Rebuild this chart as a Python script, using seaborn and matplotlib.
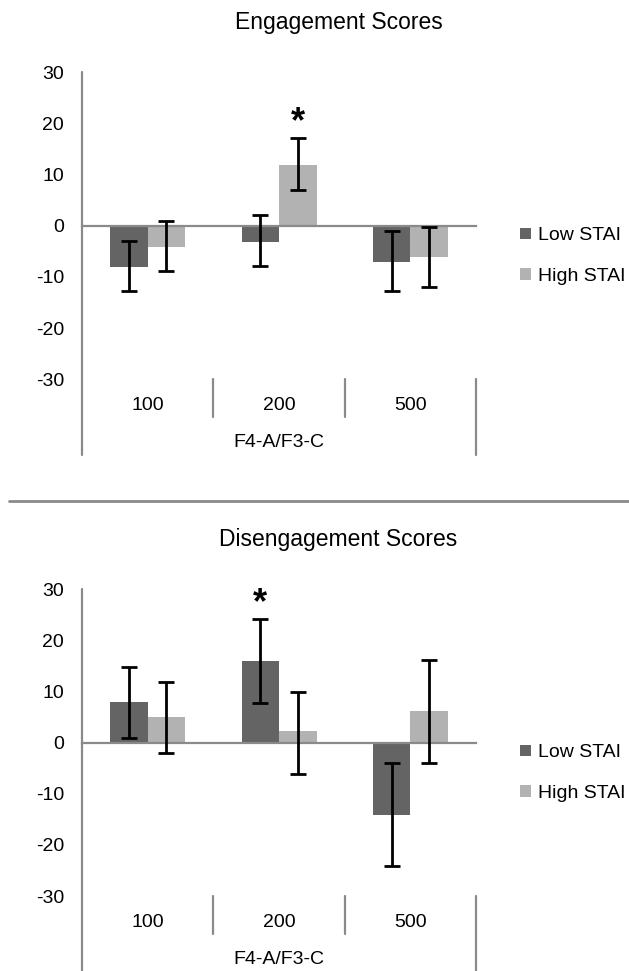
import matplotlib.pyplot as plt
import pandas as pd
import seaborn as sns
from matplotlib.lines import Line2D
from matplotlib.transforms import blended_transform_factory

# ==========================================
# Data
# ==========================================

delays = ["100", "200", "500"]
groups = ["Low STAI", "High STAI"]
axis_name = "F4-A/F3-C"

eng_low = [-8.1, -3.2, -7.1]
eng_high = [-4.2, 11.9, -6.2]
eng_low_lo = [-12.8, -7.9, -12.8]
eng_low_hi = [-3.0, 2.0, -1.0]
eng_high_lo = [-8.8, 6.9, -11.9]
eng_high_hi = [0.9, 17.1, -0.3]

dis_low = [8.0, 15.9, -14.1]
dis_high = [5.0, 2.2, 6.1]
dis_low_lo = [0.9, 7.8, -24.1]
dis_low_hi = [14.8, 24.2, -4.0]
dis_high_lo = [-2.0, -6.1, -4.0]
dis_high_hi = [11.8, 9.8, 16.1]

y_ticks = [-30, -20, -10, 0, 10, 20, 30]

LOW_COLOR = "#646464"
HIGH_COLOR = "#b2b2b2"
AXIS_GRAY = "#8a8a8a"


def draw_panel(ax, low, high, low_lo, low_hi, high_lo, high_hi, star_group, star_idx):

    df = pd.DataFrame({
        "delay": delays * 2,
        "group": [groups[0]] * len(delays) + [groups[1]] * len(delays),
        "score": low + high,
    })

    sns.barplot(
        data=df,
        x="delay",
        y="score",
        hue="group",
        order=delays,
        hue_order=groups,
        palette=[LOW_COLOR, HIGH_COLOR],
        width=0.571,
        gap=0,
        errorbar=None,
        saturation=1,
        linewidth=0,
        ax=ax,
    )

    # error bars on top of each bar
    tops = {}
    for container, vals, lo, hi, g in zip(
        ax.containers, [low, high], [low_lo, high_lo], [low_hi, high_hi], groups
    ):
        xs = [p.get_x() + p.get_width() / 2 for p in container.patches]
        yerr = [
            [v - l for v, l in zip(vals, lo)],
            [h - v for v, h in zip(vals, hi)],
        ]
        ax.errorbar(
            xs, vals, yerr=yerr, fmt="none", ecolor="black",
            elinewidth=2, capsize=6, capthick=2, zorder=4,
        )
        tops[g] = list(zip(xs, hi))

    sx, sy = tops[star_group][star_idx]
    ax.annotate(
        "*", xy=(sx, sy), xytext=(0, 4), textcoords="offset points",
        ha="center", va="baseline", fontsize=26, fontweight="bold",
        color="black",
    )

    ax.set_xlim(-0.5, 2.5)
    ax.set_ylim(-30, 30)
    ax.set_yticks(y_ticks)
    ax.set_xticks([0.5, 1.5, 2.5])
    ax.set_xticklabels([])
    ax.set_xlabel("")
    ax.set_ylabel("")

    for side in ["top", "right", "left"]:
        ax.spines[side].set_visible(False)
    ax.spines["bottom"].set_position(("data", 0))
    ax.spines["bottom"].set_color(AXIS_GRAY)
    ax.spines["bottom"].set_linewidth(1.6)
    ax.spines["bottom"].set_zorder(3)

    ax.tick_params(axis="y", direction="out", length=6, width=1.3,
                   color=AXIS_GRAY, pad=7, labelsize=14, labelcolor="black")
    ax.tick_params(axis="x", direction="out", length=4, width=1.3,
                   color=AXIS_GRAY)

    # category table below the plot
    trans = blended_transform_factory(ax.transData, ax.transAxes)
    line_kw = dict(transform=trans, clip_on=False, color=AXIS_GRAY, lw=1.6)
    ax.add_line(Line2D([-0.5, -0.5], [-0.246, 1], **line_kw))
    ax.add_line(Line2D([2.5, 2.5], [-0.246, 0], **line_kw))
    for xb in [0.5, 1.5]:
        ax.add_line(Line2D([xb, xb], [-0.123, 0], **line_kw))

    for i, d in enumerate(delays):
        ax.text(i, -0.085, d, transform=trans, ha="center", va="center",
                fontsize=14, color="black")
    ax.text(1, -0.207, axis_name, transform=trans, ha="center",
            va="center", fontsize=14, color="black")

    handles, labels = ax.get_legend_handles_labels()
    leg = ax.legend(
        handles, labels, loc="center left", bbox_to_anchor=(1.112, 0.401),
        frameon=False, fontsize=14, handlelength=0.55, handleheight=0.55,
        handletextpad=0.35, labelspacing=1.2, borderpad=0, borderaxespad=0,
    )
    for t in leg.get_texts():
        t.set_color("black")


def main():

    sns.set_style("white")
    plt.rcParams["font.family"] = ["Liberation Sans", "DejaVu Sans"]
    plt.rcParams["axes.unicode_minus"] = False
    plt.rcParams["text.color"] = "black"

    fig = plt.figure(figsize=(6.29, 9.71), dpi=100)

    ax_top = fig.add_axes([0.1304, 0.6094, 0.6264, 0.3164])
    ax_bot = fig.add_axes([0.1304, 0.0772, 0.6264, 0.3162])

    draw_panel(ax_top, eng_low, eng_high, eng_low_lo, eng_low_hi,
               eng_high_lo, eng_high_hi, "High STAI", 1)
    draw_panel(ax_bot, dis_low, dis_high, dis_low_lo, dis_low_hi,
               dis_high_lo, dis_high_hi, "Low STAI", 1)

    fig.text(0.538, 0.9773, "Engagement Scores", ha="center", va="center",
             fontsize=16.5, color="black")
    fig.text(0.538, 0.4439, "Disengagement Scores", ha="center",
             va="center", fontsize=16.5, color="black")

    # divider between the two panels
    fig.add_artist(Line2D([0.0143, 1.0], [0.4843, 0.4843],
                          transform=fig.transFigure, color=AXIS_GRAY, lw=2))

    fig.savefig("out.png", dpi=100)
    plt.close(fig)


if __name__ == "__main__":
    main()
